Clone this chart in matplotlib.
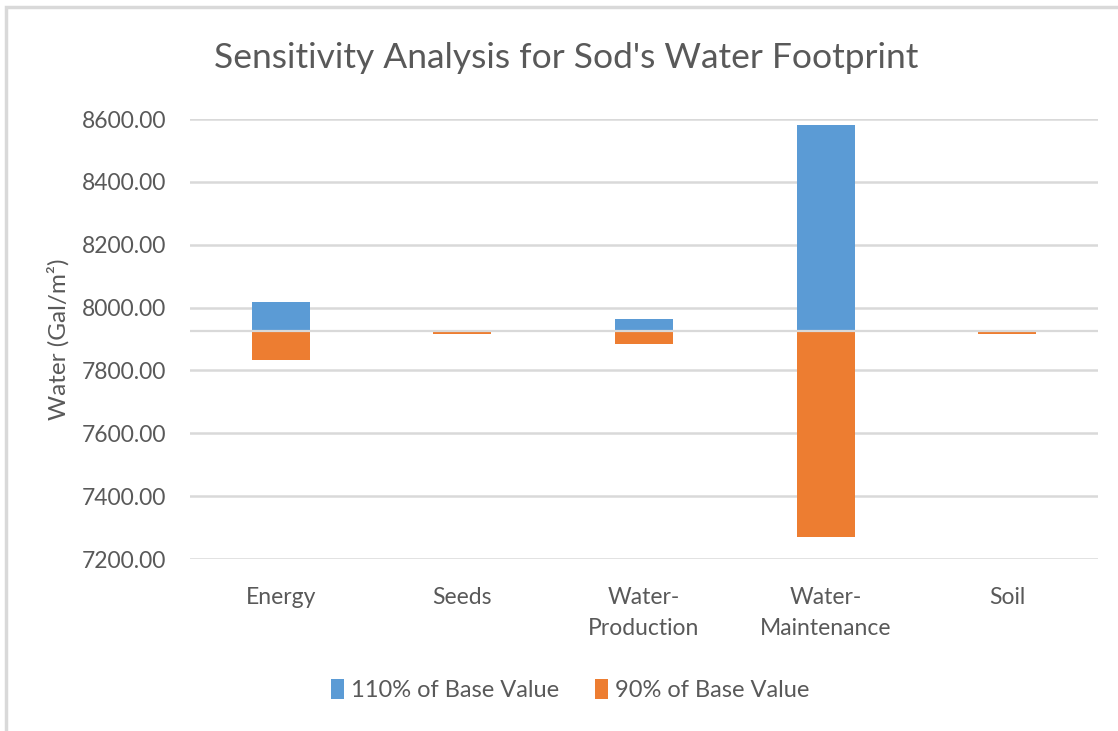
import matplotlib
matplotlib.use("Agg")
import matplotlib.pyplot as plt
from matplotlib.patches import Patch, Rectangle

# data
categories = ["Energy", "Seeds", "Water-\nProduction", "Water-\nMaintenance", "Soil"]
base_value = 7925.0
high_110 = [8017.0, 7925.0, 7965.0, 8580.0, 7925.0]
low_90 = [7833.0, 7915.0, 7884.0, 7270.0, 7915.0]

_BLUE = "#5B9BD5"
_ORANGE = "#ED7D31"
_TEXT = "#595959"
_GRID = "#D9D9D9"

plt.rcParams["font.family"] = ["Lato", "DejaVu Sans"]

fig = plt.figure(figsize=(11.18, 7.31), dpi=100, facecolor="white")
# light frame of the chart area
fig.patches.append(Rectangle((6 / 1118, -0.05), 1.2, 1 - 7 / 731 + 0.05,
                             transform=fig.transFigure, facecolor="none",
                             edgecolor="#D9D9D9", linewidth=2.5))

ax = fig.add_axes([190 / 1118, 1 - 559 / 731, 908 / 1118, 440 / 731])
x = list(range(len(categories)))
up = [h - base_value for h in high_110]
down = [l - base_value for l in low_90]
ax.bar(x, up, bottom=base_value, width=0.32, color=_BLUE, zorder=2,
       label="110% of Base Value")
ax.bar(x, down, bottom=base_value, width=0.32, color=_ORANGE, zorder=2,
       label="90% of Base Value")
ax.axhline(base_value, color=_GRID, linewidth=1.6, zorder=3)

ax.set_xlim(-0.5, len(categories) - 0.5)
ax.set_ylim(7200, 8600)
ax.set_yticks(range(7200, 8601, 200))
ax.set_yticklabels([f"{v:.2f}" for v in range(7200, 8601, 200)])
ax.yaxis.grid(True, color=_GRID, linewidth=1.8, zorder=0)
ax.set_axisbelow(True)
for s in ax.spines.values():
    s.set_visible(False)
ax.set_xticks(x)
ax.set_xticklabels(categories, linespacing=1.6)
ax.tick_params(axis="both", length=0, labelsize=16.5, colors=_TEXT)
ax.tick_params(axis="x", pad=20)
ax.tick_params(axis="y", pad=17)
for lbl in ax.get_xticklabels():
    lbl.set_verticalalignment("top")

ax.set_ylabel("Water (Gal/m\u00b2)", fontsize=17.5, color=_TEXT, labelpad=9)

fig.text(0.506, 1 - 58 / 731, "Sensitivity Analysis for Sod's Water Footprint",
         ha="center", va="center", fontsize=25.5, color=_TEXT)

handles = [Patch(facecolor=_BLUE), Patch(facecolor=_ORANGE)]
fig.legend(handles, ["110% of Base Value", "90% of Base Value"],
           loc="center", bbox_to_anchor=(570 / 1118, 1 - 690 / 731), ncol=2,
           frameon=False, fontsize=17, labelcolor=_TEXT,
           handlelength=0.55, handleheight=0.9, handletextpad=0.3,
           columnspacing=1.5)

fig.savefig("out.png", dpi=100, facecolor="white")
